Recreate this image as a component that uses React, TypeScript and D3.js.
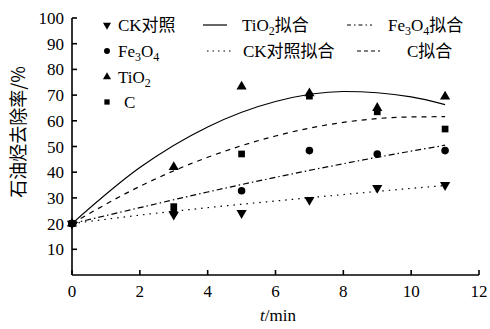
import { useEffect, useRef } from 'react';
import * as d3 from 'd3';

// measured times (min)
const times = [0, 3, 5, 7, 9, 11];
const ckValues = [20, 23.5, 24.1, 29.2, 33.9, 35];
const fe3o4Values = [20, 24.3, 32.8, 48.4, 47.1, 48.4];
const tio2Values = [20, 42, 73.3, 70.7, 65, 69.4];
const cValues = [20, 26.6, 47.1, 69.6, 63.5, 56.8];

// fitted curves
const fitTimes = [0, 2, 4, 6, 8, 10, 11];
const tio2Fit = [20, 41.8, 57.6, 67.5, 71.4, 69.3, 66.3];
const cFit = [20, 34.5, 45.8, 54.1, 59.4, 61.5, 61.6];
const fe3o4Fit = [20, 26.2, 32.3, 38, 43.3, 48.2, 50.5];
const ckFit = [20, 23.3, 26.2, 28.8, 31.3, 33.7, 34.8];

const xTicks = [0, 2, 4, 6, 8, 10, 12];
const yTicks = [10, 20, 30, 40, 50, 60, 70, 80, 90, 100];

const legendNames = ['CK对照', 'Fe3O4', 'TiO2', 'C'];
const fitNames = ['TiO2拟合', 'Fe3O4拟合', 'CK对照拟合', 'C拟合'];

const FONT = "'Liberation Serif', 'Noto Sans CJK SC', serif";
const CJK = "'Noto Sans CJK SC', sans-serif";

type Marker = 'down' | 'circle' | 'up' | 'square';

export default function App() {
  const svgRef = useRef<SVGSVGElement>(null);
  const width = 490;
  const height = 329;

  useEffect(() => {
    if (!svgRef.current) return;
    const svg = d3.select(svgRef.current);
    svg.selectAll('*').remove();

    const x = d3.scaleLinear().domain([0, 12]).range([72, 479]);
    const y = d3.scaleLinear().domain([0, 100]).range([275, 18]);

    svg.append('rect').attr('width', width).attr('height', height).attr('fill', '#fff');

    // axes
    const axis = svg.append('g').attr('stroke', '#000').attr('stroke-width', 1.6);
    axis.append('line').attr('x1', x(0)).attr('x2', x(0)).attr('y1', y(0)).attr('y2', y(100));
    axis.append('line').attr('x1', x(0)).attr('x2', x(12)).attr('y1', y(0)).attr('y2', y(0));
    yTicks.forEach(t => {
      axis.append('line').attr('x1', x(0)).attr('x2', x(0) + 5).attr('y1', y(t)).attr('y2', y(t));
    });
    xTicks.forEach(t => {
      axis.append('line').attr('x1', x(t)).attr('x2', x(t)).attr('y1', y(0)).attr('y2', y(0) - 5);
    });

    const labels = svg.append('g').attr('font-family', FONT).attr('font-size', 17).attr('fill', '#000');
    yTicks.forEach(t => {
      labels.append('text')
        .attr('x', 64)
        .attr('y', y(t) + 6)
        .attr('text-anchor', 'end')
        .text(t);
    });
    xTicks.forEach(t => {
      labels.append('text')
        .attr('x', x(t))
        .attr('y', 297)
        .attr('text-anchor', 'middle')
        .text(t);
    });

    const xt = labels.append('text').attr('x', 278).attr('y', 321).attr('text-anchor', 'middle');
    xt.append('tspan').attr('font-style', 'italic').text('t');
    xt.append('tspan').text('/min');

    svg.append('text')
      .attr('transform', 'translate(25,132) rotate(-90)')
      .attr('text-anchor', 'middle')
      .attr('font-family', CJK)
      .attr('font-size', 18)
      .text('石油烃去除率/%');

    // fitted lines
    const line = d3.line<number>()
      .x((_d, i) => x(fitTimes[i]))
      .y(d => y(d))
      .curve(d3.curveMonotoneX);

    const fits: { vals: number[]; dash: string | null }[] = [
      { vals: tio2Fit, dash: null },
      { vals: cFit, dash: '5,5' },
      { vals: fe3o4Fit, dash: '6,3,1.5,3' },
      { vals: ckFit, dash: '1.5,5' },
    ];
    fits.forEach(f => {
      svg.append('path')
        .datum(f.vals)
        .attr('d', line)
        .attr('fill', 'none')
        .attr('stroke', '#000')
        .attr('stroke-width', 1.2)
        .attr('stroke-dasharray', f.dash);
    });

    const symbolFor = (m: Marker, size: number) => {
      if (m === 'circle') return d3.symbol(d3.symbolCircle, size)();
      if (m === 'square') return d3.symbol(d3.symbolSquare, size)();
      return d3.symbol(d3.symbolTriangle, size)();
    };

    const drawMarker = (m: Marker, cx: number, cy: number, size: number) => {
      svg.append('path')
        .attr('d', symbolFor(m, size))
        .attr('transform', `translate(${cx},${cy})${m === 'down' ? ' rotate(180)' : ''}`)
        .attr('fill', '#000');
    };

    const series: { vals: number[]; marker: Marker }[] = [
      { vals: ckValues, marker: 'down' },
      { vals: fe3o4Values, marker: 'circle' },
      { vals: tio2Values, marker: 'up' },
      { vals: cValues, marker: 'square' },
    ];
    series.forEach(s => {
      s.vals.forEach((v, i) => drawMarker(s.marker, x(times[i]), y(v), 45));
    });

    // chemical formula digits become subscripts
    const addLabel = (g: d3.Selection<SVGTextElement, unknown, null, undefined>, name: string) => {
      const parts = name.match(/(\d+|[^\d]+)/g) || [];
      let lowered = false;
      parts.forEach(p => {
        const sub = /^\d+$/.test(p);
        const ts = g.append('tspan').text(p);
        if (sub) {
          ts.attr('font-size', 12).attr('dy', lowered ? 0 : 4);
          lowered = true;
        } else {
          if (lowered) ts.attr('dy', -4);
          lowered = false;
        }
      });
    };

    // marker legend
    const legendRows = [25, 51, 77, 102];
    series.forEach((s, i) => {
      drawMarker(s.marker, 107, legendRows[i], 28);
      const t = svg.append('text')
        .attr('x', i === 3 ? 124 : 118)
        .attr('y', legendRows[i] + 6)
        .attr('font-family', FONT)
        .attr('font-size', 17)
        .attr('fill', '#000');
      addLabel(t, legendNames[i]);
    });

    // line legend
    const lineLegend = [
      { x1: 203, x2: 227, tx: 242, row: 25, dash: null },
      { x1: 347, x2: 372, tx: 388, row: 25, dash: '4,3,1.5,3' },
      { x1: 207, x2: 233, tx: 243, row: 51, dash: '1.5,4' },
      { x1: 357, x2: 380, tx: 407, row: 51, dash: '4,3' },
    ];
    lineLegend.forEach((l, i) => {
      svg.append('line')
        .attr('x1', l.x1).attr('x2', l.x2)
        .attr('y1', l.row).attr('y2', l.row)
        .attr('stroke', '#000')
        .attr('stroke-width', 1.2)
        .attr('stroke-dasharray', l.dash);
      const t = svg.append('text')
        .attr('x', l.tx)
        .attr('y', l.row + 6)
        .attr('font-family', FONT)
        .attr('font-size', 17)
        .attr('fill', '#000');
      addLabel(t, fitNames[i]);
    });
  }, []);

  return (
    <svg
      ref={svgRef}
      width={width}
      height={height}
      style={{ position: 'absolute', left: 0, top: 0, display: 'block' }}
    />
  );
}
